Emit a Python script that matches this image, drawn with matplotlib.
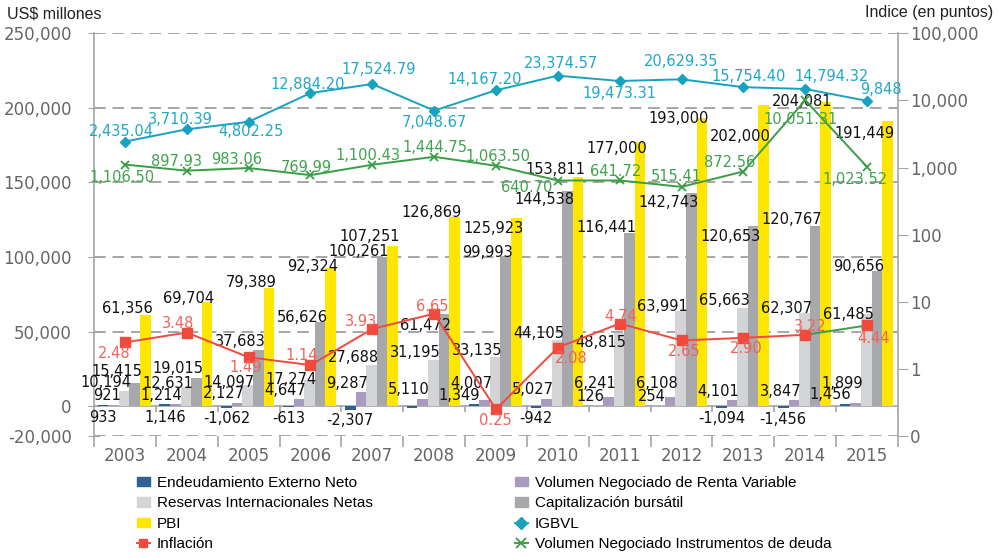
import numpy as np
import matplotlib
matplotlib.use("Agg")
import matplotlib.pyplot as plt
from matplotlib.patches import Patch
from matplotlib.lines import Line2D

years = ['2003', '2004', '2005', '2006', '2007', '2008', '2009',
         '2010', '2011', '2012', '2013', '2014', '2015']

# US$ millones (eje izquierdo)
endeudamiento = [933, 1146, -1062, -613, -2307, -900, 1349, -942, 126, 254, -1094, -1456, 1456]
volumen_rv = [921, 1214, 2127, 4647, 9287, 5110, 4007, 5027, 6241, 6108, 4101, 3847, 1899]
reservas = [10194, 12631, 14097, 17274, 27688, 31195, 33135, 44105, 48815, 63991, 65663, 62307, 61485]
capitalizacion = [15415, 19015, 37683, 56626, 100261, 61472, 99993, 144538, 116441, 142743, 120653, 120767, 90656]
pbi = [61356, 69704, 79389, 92324, 107251, 126869, 125923, 153811, 177000, 193000, 202000, 204081, 191449]

# indices (eje derecho, log)
igbvl = [2435.04, 3710.39, 4802.25, 12884.20, 17524.79, 7048.67, 14167.20,
         23374.57, 19473.31, 20629.35, 15754.40, 14794.32, 9848]
inflacion = [2.48, 3.48, 1.49, 1.14, 3.93, 6.65, 0.25, 2.08, 4.74, 2.65, 2.90, 3.22, 4.44]
vol_deuda = [1106.50, 897.93, 983.06, 769.99, 1100.43, 1444.75, 1063.50,
             640.70, 641.72, 515.41, 872.56, 10051.31, 1023.52]

left_ticks = [-20000, 0, 50000, 100000, 150000, 200000, 250000]
right_ticks = [0.1, 1, 10, 100, 1000, 10000, 100000]
right_labels = ['0', '1', '10', '100', '1,000', '10,000', '100,000']

# label placement (pixels)
igbvl_off = [(-4, 10), (-6, 10), (2, -10), (-3, 9), (6, 15), (0, -12), (-11, 11),
             (3, 12), (0, -13), (0, 18), (5, 11), (26, 13), (14, 11)]
deuda_off = [(-3, -13), (-10, 9), (-12, 9), (-4, 8), (-4, 9), (1, 9), (2, 9),
             (-31, -7), (-4, 9), (-5, 10), (-14, 9), (-5, -19), (-12, -13)]
infl_off = [(-11, -11), (-9, 9), (-3, -10), (-9, 10), (-11, 7), (-2, 7), (-1, -11),
            (13, -11), (1, 7), (3, -11), (3, -11), (5, 8), (6, -13)]
endeud_pos = ['below', 'below', 'below', 'below', 'below', None, 'above',
              'below', 'above', 'above', 'below', 'below', 'above']
reservas_dy = [8, 4, 3, 1, 7, 7, 6, 7, -9, 4, 8, 5, 0]
capital_dy = [12, 9, 8, 4, 5, -11, 5, -9, 5, -9, -10, 7, 4]
pbi_dy = [6, 4, 5, 2, 10, 4, -10, 7, -6, 0, -32, 0, -13]

c_blue = '#2f6193'
c_purple = '#a99bbf'
c_lgray = '#d3d4d6'
c_gray = '#a7a8ab'
c_yellow = '#ffe600'
c_igbvl = '#17a2bf'
c_green = '#3a9d47'
c_red = '#f04a3e'
c_axis = '#a6a6a6'
c_tick = '#666666'

narrow = ['Liberation Sans', 'DejaVu Sans']

fig = plt.figure(figsize=(9.98, 5.58), dpi=100)
ax = fig.add_axes([94 / 998, 1 - 436 / 558, 804 / 998, (436 - 33.3) / 558])
ax2 = ax.twinx()

x = np.arange(len(years))
w = 0.171
series = [(endeudamiento, c_blue), (volumen_rv, c_purple), (reservas, c_lgray),
          (capitalizacion, c_gray), (pbi, c_yellow)]
for k, (vals, col) in enumerate(series):
    ax.bar(x + (k - 2.08) * w, vals, w, color=col, zorder=3)

ax.set_xlim(-0.5, len(years) - 0.5)
ax.set_ylim(-20000, 250000)
ax2.set_yscale('log')
ax2.set_ylim(0.1, 100000)

# grid
for t in left_ticks:
    if t != 0:
        ax.axhline(t, color=c_axis, lw=1.4, ls=(0, (6, 3.5)), zorder=1)
ax.axhline(0, color=c_axis, lw=1.2, zorder=2)

for s in ['top', 'bottom']:
    ax.spines[s].set_visible(False)
    ax2.spines[s].set_visible(False)
ax.spines['left'].set_color(c_axis)
ax.spines['left'].set_linewidth(1.2)
ax2.spines['right'].set_color(c_axis)
ax2.spines['right'].set_linewidth(1.2)
ax2.spines['left'].set_visible(False)
ax.spines['right'].set_visible(False)

ax.set_yticks(left_ticks)
ax.set_yticklabels([f'{t:,}' for t in left_ticks])
ax.tick_params(axis='y', direction='inout', length=8, color=c_axis, pad=12,
               labelsize=12, labelcolor=c_tick)
ax2.set_yticks(right_ticks)
ax2.set_yticklabels(right_labels)
ax2.minorticks_off()
ax2.tick_params(axis='y', direction='out', length=7, color=c_axis, pad=1.5,
                labelsize=12, labelcolor=c_tick)

ax.set_xticks(x)
ax.set_xticklabels(years)
ax.set_xticks(np.arange(len(years) + 1) - 0.5, minor=True)
ax.tick_params(axis='x', which='major', length=0, pad=8, labelsize=12, labelcolor=c_tick)
ax.tick_params(axis='x', which='minor', direction='out', length=8, color=c_axis, width=1.2)
# small ticks on the zero line
ax.vlines(np.arange(len(years) + 1) - 0.5, -4000, 1000, color=c_axis, lw=1.2, zorder=2)

# bar labels
lab_kw = dict(textcoords='offset pixels', fontsize=10.5, color='#111111', zorder=6)
for i in range(len(years)):
    pos = endeud_pos[i]
    xb = x[i] + (0 - 2.08) * w
    if pos == 'below':
        ax.annotate(f'{endeudamiento[i]:,}', (xb, min(endeudamiento[i], 0)), xytext=(0, -11),
                    ha='center', va='center', **lab_kw)
    elif pos == 'above':
        ax.annotate(f'{endeudamiento[i]:,}', (xb + w / 2, max(endeudamiento[i], 0)), xytext=(1, 9),
                    ha='right', va='center', **lab_kw)
    xb = x[i] + (1 - 2.08) * w + w / 2
    dy = 23 if endeud_pos[i] == 'above' else 9
    ax.annotate(f'{volumen_rv[i]:,}', (xb, 0 if dy == 23 else volumen_rv[i]), xytext=(2, dy),
                ha='right', va='center', **lab_kw)
    for k, vals, dys in [(2, reservas, reservas_dy), (3, capitalizacion, capital_dy), (4, pbi, pbi_dy)]:
        xb = x[i] + (k - 2.08) * w + w / 2
        ax.annotate(f'{vals[i]:,}', (xb, vals[i]), xytext=(2, dys[i]),
                    ha='right', va='center', **lab_kw)

# lines on log axis
ax2.plot(x, igbvl, color=c_igbvl, lw=1.4, marker='D', ms=5, zorder=5)
ax2.plot(x, vol_deuda, color=c_green, lw=1.4, marker='x', ms=6, mew=1.3, zorder=5)
ax2.plot(x[:-1], inflacion[:-1], color=c_red, lw=1.4, zorder=5)
ax2.plot(x[-2:], inflacion[-2:], color=c_green, lw=1.4, zorder=5)
ax2.plot(x, inflacion, ls='none', marker='s', ms=6.5, color=c_red, zorder=6)

line_kw = dict(textcoords='offset pixels', fontsize=10.5, ha='center', va='center', zorder=7)
for i in range(len(years)):
    v = igbvl[i]
    txt = f'{v:,.2f}' if v % 1 else f'{v:,.0f}'
    ax2.annotate(txt, (x[i], v), xytext=igbvl_off[i], color='#1fa8c6', **line_kw)
    ax2.annotate(f'{vol_deuda[i]:,.2f}', (x[i], vol_deuda[i]), xytext=deuda_off[i],
                 color='#3fa34d', **line_kw)
    ax2.annotate(f'{inflacion[i]:.2f}', (x[i], inflacion[i]), xytext=infl_off[i],
                 color='#f2625a', **line_kw)

fig.text(7 / 998, 1 - 14 / 558, 'US$ millones', family=narrow, fontsize=11.5,
         color='#222222', va='center', ha='left')
fig.text(993 / 998, 1 - 13 / 558, 'Indice (en puntos)', family=narrow, fontsize=11.5,
         color='#222222', va='center', ha='right')

handles_1 = [
    Patch(color=c_blue, label='Endeudamiento Externo Neto'),
    Patch(color=c_lgray, label='Reservas Internacionales Netas'),
    Patch(color=c_yellow, label='PBI'),
    Line2D([], [], color=c_red, marker='s', ms=6, lw=1.4, label='Inflación'),
]
handles_2 = [
    Patch(color=c_purple, label='Volumen Negociado de Renta Variable'),
    Patch(color=c_gray, label='Capitalización bursátil'),
    Line2D([], [], color=c_igbvl, marker='D', ms=6, lw=1.4, label='IGBVL'),
    Line2D([], [], color=c_green, marker='x', ms=7, mew=1.3, lw=1.4,
           label='Volumen Negociado Instrumentos de deuda'),
]
leg_kw = dict(loc='upper left', frameon=False, handlelength=0.85, handleheight=0.6,
              handletextpad=0.45, labelspacing=0.42, borderpad=0, borderaxespad=0,
              prop={'family': narrow, 'size': 11})
fig.legend(handles=handles_1, bbox_to_anchor=(137 / 998, 1 - 476 / 558), **leg_kw)
fig.legend(handles=handles_2, bbox_to_anchor=(515 / 998, 1 - 476 / 558), **leg_kw)

fig.savefig('out.png', dpi=100)
